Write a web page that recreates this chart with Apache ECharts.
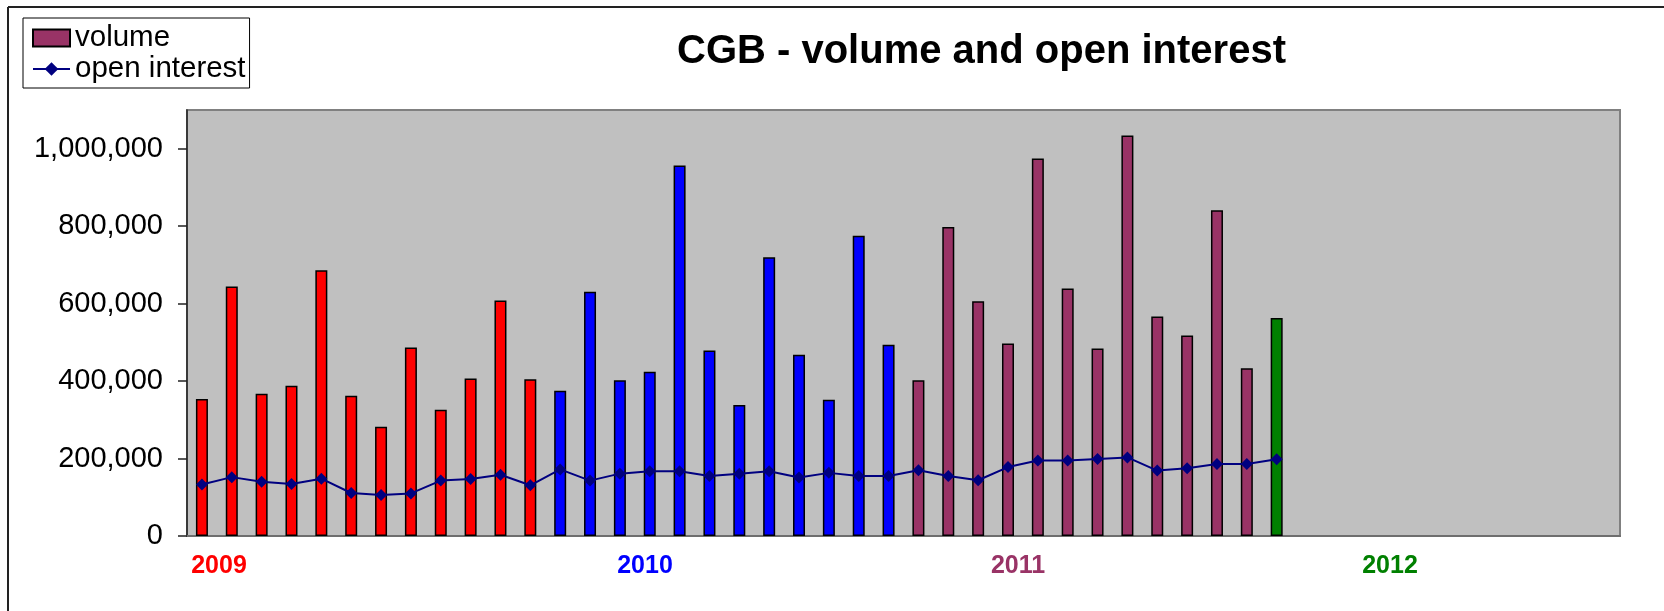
<!DOCTYPE html>
<html>
<head>
<meta charset="utf-8">
<script src="https://cdn.jsdelivr.net/npm/echarts@6/dist/echarts.min.js"></script>
<style>
html,body{margin:0;padding:0;background:#fff;}
#chart{width:1664px;height:611px;}
</style>
</head>
<body>
<div id="chart"></div>
<script>
// 48 monthly categories, Jan 2009 .. Dec 2012
const years = ['2009', '2010', '2011', '2012'];
const months = ['01','02','03','04','05','06','07','08','09','10','11','12'];
const categories = [];
years.forEach(y => months.forEach(m => categories.push(y + '-' + m)));

const volume = [
  354000, 644000, 367000, 388000, 686000, 362000, 282000, 487000, 326000, 407000, 608000, 405000,
  375000, 631000, 402000, 424000, 957000, 479000, 338000, 720000, 468000, 352000, 775000, 494000,
  402000, 798000, 606000, 497000, 975000, 639000, 484000, 1034000, 567000, 518000, 841000, 433000,
  563000
];
const openInterest = [
  133000, 152000, 140000, 134000, 148000, 111000, 106000, 110000, 143000, 147000, 158000, 131000,
  172000, 143000, 161000, 167000, 167000, 155000, 161000, 167000, 151000, 163000, 155000, 155000,
  170000, 155000, 144000, 178000, 195000, 195000, 199000, 203000, 169000, 175000, 186000, 186000,
  198000
];
const yearColors = {'2009': '#FF0000', '2010': '#0000FF', '2011': '#993366', '2012': '#008000'};
const yTicks = [0, 200000, 400000, 600000, 800000, 1000000];
const seriesNames = ['volume', 'open interest'];
const titleText = 'CGB - volume and open interest';

const FONT = 'Liberation Sans, Arial, sans-serif';
const chart = echarts.init(document.getElementById('chart'), null, {renderer: 'canvas'});

const volumeData = volume.map((v, i) => ({
  value: v,
  itemStyle: {color: yearColors[categories[i].slice(0, 4)]}
}));

const yearLabelX = [219, 645, 1018, 1390];

chart.setOption({
  animation: false,
  backgroundColor: '#ffffff',
  title: {
    text: titleText,
    left: 677,
    top: 32,
    padding: 0,
    textStyle: {fontFamily: FONT, fontSize: 40, fontWeight: 'bold', color: '#000'}
  },
  legend: {
    orient: 'vertical',
    left: 23,
    top: 18,
    padding: [5, 4, 4, 9],
    itemGap: 1,
    itemWidth: 37,
    itemHeight: 17,
    backgroundColor: '#fff',
    borderColor: '#000',
    borderWidth: 1,
    borderRadius: 0,
    data: [
      {name: seriesNames[0], icon: 'rect'},
      {name: seriesNames[1]}
    ],
    textStyle: {fontFamily: FONT, fontSize: 29.5, color: '#000', lineHeight: 28}
  },
  grid: {
    left: 187,
    right: 44,
    top: 110,
    bottom: 75,
    show: true,
    backgroundColor: '#C0C0C0',
    borderColor: '#808080',
    borderWidth: 2,
    containLabel: false
  },
  xAxis: {
    type: 'category',
    data: categories,
    boundaryGap: true,
    axisLine: {show: true, lineStyle: {color: '#6e6e6e', width: 2}},
    axisTick: {show: false},
    axisLabel: {show: false},
    splitLine: {show: false}
  },
  yAxis: {
    type: 'value',
    min: 0,
    max: 1100000,
    interval: 200000,
    axisLine: {show: true, lineStyle: {color: '#222', width: 1.5}},
    axisTick: {show: true, inside: false, length: 9, lineStyle: {color: '#222', width: 1.5}, customValues: yTicks},
    axisLabel: {
      customValues: yTicks,
      margin: 24,
      fontFamily: FONT,
      fontSize: 29,
      color: '#000',
      formatter: v => Number(v).toLocaleString('en-US')
    },
    splitLine: {show: false}
  },
  series: [
    {
      name: seriesNames[0],
      type: 'bar',
      data: volumeData,
      barWidth: 12,
      itemStyle: {color: '#993366', borderColor: '#000', borderWidth: 1.5},
      z: 2
    },
    {
      name: seriesNames[1],
      type: 'line',
      data: openInterest,
      symbol: 'diamond',
      symbolSize: [12, 12],
      lineStyle: {color: '#000080', width: 2},
      itemStyle: {color: '#000080'},
      z: 3
    }
  ],
  graphic: [
    {type: 'line', shape: {x1: 8, y1: 7, x2: 1664, y2: 7}, style: {stroke: '#222', lineWidth: 2}, silent: true},
    {type: 'line', shape: {x1: 8, y1: 7, x2: 8, y2: 611}, style: {stroke: '#222', lineWidth: 2}, silent: true}
  ].concat(years.map((y, i) => ({
    type: 'text',
    x: yearLabelX[i],
    y: 566,
    style: {
      text: y,
      fill: yearColors[y],
      font: 'bold 25px ' + FONT,
      textAlign: 'center',
      textVerticalAlign: 'middle'
    }
  })))
});
</script>
</body>
</html>
